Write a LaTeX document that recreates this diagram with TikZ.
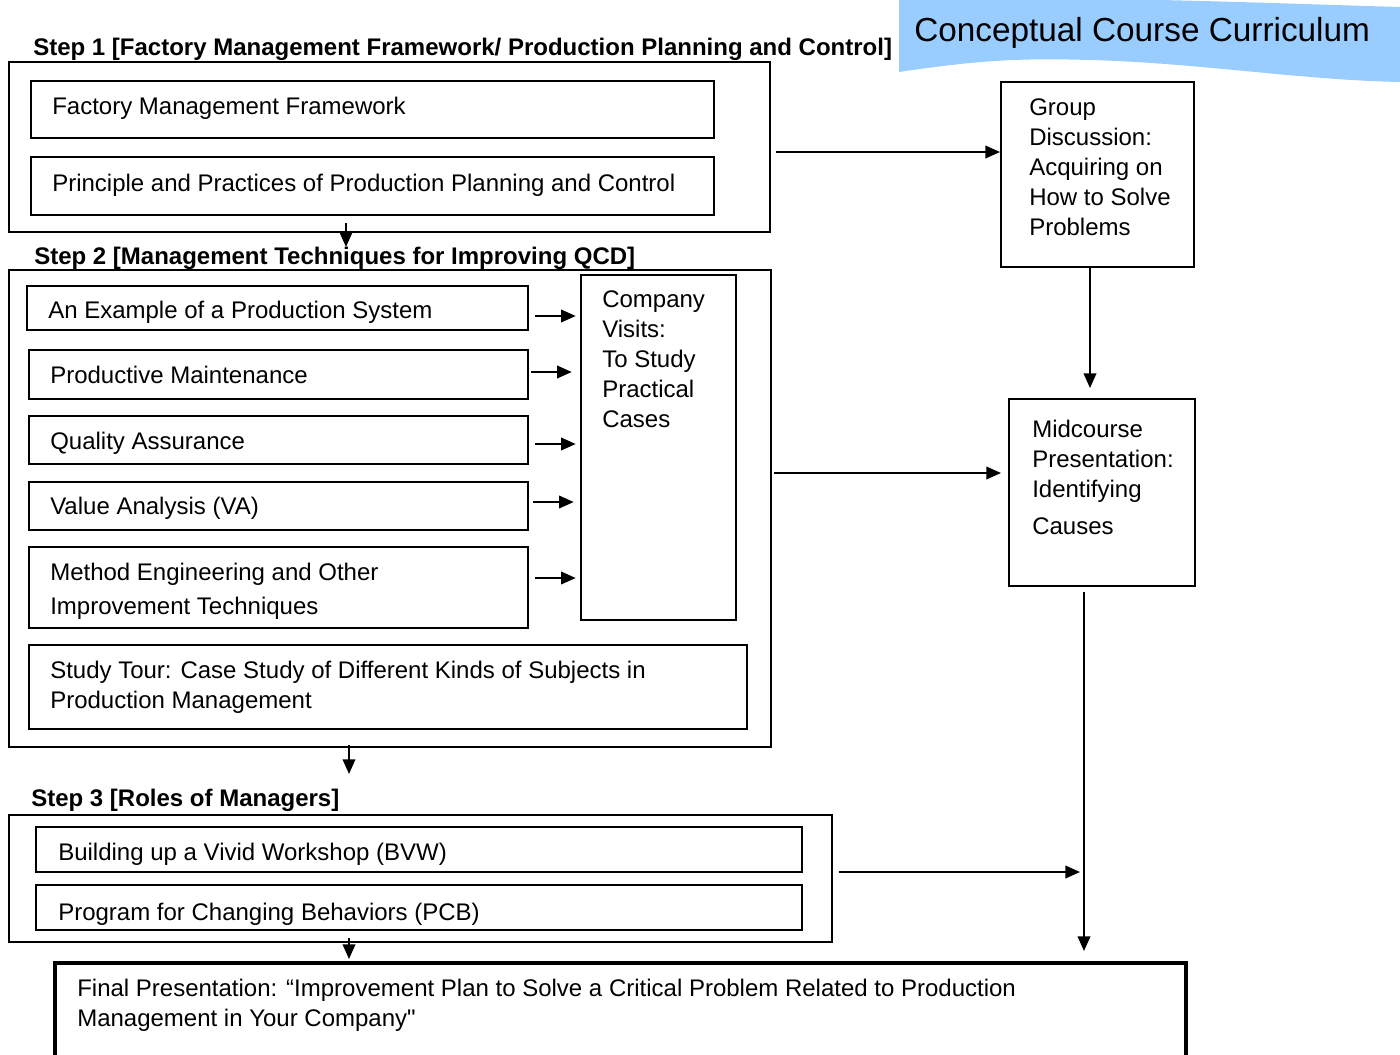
\documentclass[tikz,border=0pt]{standalone}
\usepackage{fontspec}
\setmainfont{Liberation Sans}[Ligatures=TeXOff]
\usetikzlibrary{arrows.meta,fit}
\definecolor{bannerblue}{HTML}{99CCFF}
\begin{document}
\begin{tikzpicture}[x=0.75pt,y=-0.75pt,
  inbox/.style={draw, line width=2pt, inner sep=0pt},
  outbox/.style={draw, line width=1.6pt, inner sep=0pt},
  sidebox/.style={draw, line width=1.5pt, inner sep=0pt},
  finbox/.style={draw, line width=3pt, inner sep=0pt},
  txt/.style={anchor=base west, inner sep=0pt, align=left, font=\fontsize{18}{22.5}\selectfont},
  head/.style={anchor=base west, inner sep=0pt, font=\fontsize{18}{22}\selectfont\bfseries},
  arr/.style={line width=1.3pt, -{Triangle[length=11pt,width=9.5pt]}}]
\useasboundingbox (0,0) rectangle (1400,1054);
\clip (0,0) rectangle (1400,1054);
% banner
\fill[bannerblue] (899,0) -- (1160,0) .. controls (1250,2) and (1330,5) .. (1400,7)
  -- (1400,82) .. controls (1300,80) and (1200,63) .. (1090,60)
  .. controls (1020,58) and (980,60) .. (899,72) -- cycle;
\node[anchor=base west, inner sep=0pt, font=\fontsize{25}{30}\selectfont] (title) at (914,41) {Conceptual Course Curriculum};
% headings
\node[head] (h1) at (33,55) {Step 1 [Factory Management Framework/ Production Planning and Control]};
\node[head] (h2) at (34,264) {Step 2 [Management Techniques for Improving QCD]};
\node[head] (h3) at (31,806) {Step 3 [Roles of Managers]};
% step 1
\node[outbox, fit={(9,62)(770,232)}] (s1) {};
\node[inbox, fit={(31,81)(714,138)}] (fmf) {};
\node[inbox, fit={(31,157)(714,215)}] (ppc) {};
\node[txt] (tfmf) at (52,114) {Factory Management Framework};
\node[txt] (tppc) at (52,191) {Principle and Practices of Production Planning and Control};
% group discussion
\node[sidebox, fit={(1001,82)(1194,267)}] (grp) {};
\node[txt] (tgrp) at (1029,235) {Group\\Discussion:\\Acquiring on\\How to Solve\\Problems};
% midcourse
\node[sidebox, fit={(1009,399)(1195,586)}] (mid) {};
\node[txt] (tmid) at (1032,534) {Midcourse\\Presentation:\\Identifying\\[5.25pt]Causes};
% step 2
\node[outbox, fit={(9,270)(771,747)}] (s2) {};
\node[inbox, fit={(27,286)(528,330)}] (ex) {};
\node[inbox, fit={(29,350)(528,399)}] (pm) {};
\node[inbox, fit={(29,416)(528,464)}] (qa) {};
\node[inbox, fit={(29,482)(528,530)}] (va) {};
\node[inbox, fit={(29,547)(528,628)}] (me) {};
\node[inbox, fit={(29,645)(747,729)}] (st) {};
\node[inbox, fit={(581,275)(736,620)}] (cv) {};
\node[txt] (tex) at (48,318) {An Example of a Production System};
\node[txt] (tpm) at (50,383) {Productive Maintenance};
\node[txt] (tqa) at (50,449) {Quality Assurance};
\node[txt] (tva) at (50,514) {Value Analysis (VA)};
\node[txt, font=\fontsize{18}{25.5}\selectfont] (tme) at (50,614) {Method Engineering and Other\\Improvement Techniques};
\node[txt] (tst) at (50,708) {Study Tour: Case Study of Different Kinds of Subjects in\\Production Management};
\node[txt] (tcv) at (602,427) {Company\\Visits:\\To Study\\Practical\\Cases};
% step 3
\node[outbox, fit={(9,815)(832,942)}] (s3) {};
\node[inbox, fit={(36,827)(802,872)}] (bvw) {};
\node[inbox, fit={(36,885)(802,930)}] (pcb) {};
\node[txt] (tbvw) at (58,860) {Building up a Vivid Workshop (BVW)};
\node[txt] (tpcb) at (58,920) {Program for Changing Behaviors (PCB)};
% final
\node[finbox, fit={(55,963)(1186,1090)}] (fin) {};
\node[txt] (tfin) at (77,1026) {Final Presentation: “Improvement Plan to Solve a Critical Problem Related to Production\\Management in Your Company"};
\coordinate (join) at (1080,872);
% connectors
\draw[arr] ([shift={(5,5)}]s1.east) -- ([shift={(0,-22.5)}]grp.west);
\draw[arr] ([shift={(-7.5,0)}]grp.south) -- ([shift={(-12,-10)}]mid.north);
\draw[arr] ([shift={(-43.5,-10)}]s1.south) -- ([shift={(-44,-22)}]s2.north);
\draw[arr] ([shift={(6,8)}]ex.east) -- ([shift={(-4,-131.5)}]cv.west);
\draw[arr] ([shift={(2,-2.5)}]pm.east) -- ([shift={(-8,-75.5)}]cv.west);
\draw[arr] ([shift={(6,4)}]qa.east) -- ([shift={(-4,-3.5)}]cv.west);
\draw[arr] ([shift={(4,-4)}]va.east) -- ([shift={(-6,54.5)}]cv.west);
\draw[arr] ([shift={(6,-9.5)}]me.east) -- ([shift={(-4,130.5)}]cv.west);
\draw[arr] ([shift={(2,-35.5)}]s2.east) -- ([shift={(-7,-19.5)}]mid.west);
\draw[arr] ([shift={(-41,-3)}]s2.south) -- ([shift={(-71.5,-40)}]s3.north);
\draw[arr] ([shift={(6,-6.5)}]s3.east) -- (join);
\draw[arr] ([shift={(-18,5)}]mid.south) -- ([shift={(463.5,-10)}]fin.north);
\draw[arr] ([shift={(-71.5,-5)}]s3.south) -- ([shift={(-271.5,-2)}]fin.north);
\end{tikzpicture}
\end{document}
